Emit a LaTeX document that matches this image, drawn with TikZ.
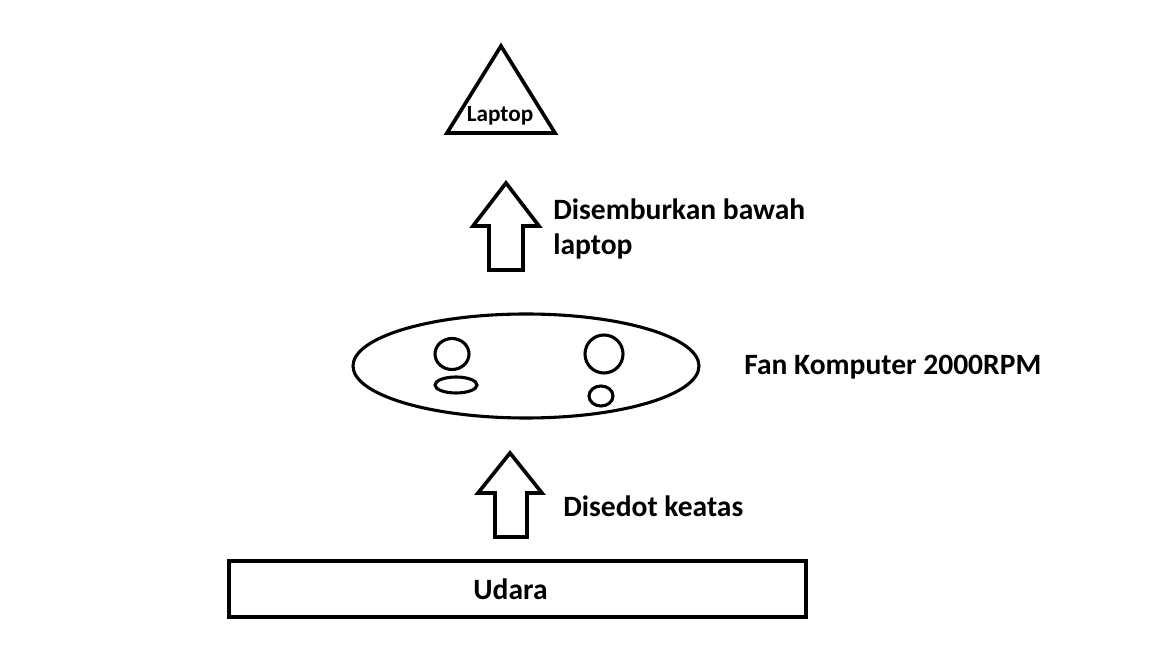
\documentclass[tikz,border=0pt]{standalone}
\usepackage{fontspec}
\setmainfont{Carlito}
\usetikzlibrary{positioning}
\tikzset{
  outline/.style={draw=black, line width=2.6pt, line join=miter},
  blockarr/.style={outline, fill=white},
  lbl/.style={font=\fontsize{21}{25}\selectfont\bfseries, inner sep=0pt,
              anchor=base west, align=left},
  hole/.style={draw=black, line width=2.2pt},
}

\begin{document}
\begin{tikzpicture}[x=0.025cm, y=-0.025cm]
  \useasboundingbox (0,0) rectangle (1152,648);

  % Laptop on top
  \draw[outline] (501,46) -- (555,133) -- (447,133) -- cycle;
  \node[font=\fontsize{16.5}{19}\selectfont\bfseries, inner sep=0pt, anchor=base]
    (laptop) at (500,122) {Laptop};

  % Arrow up into the laptop
  \draw[blockarr] (506,183) -- (539,226) -- (523,226) -- (523,270)
    -- (489,270) -- (489,226) -- (473,226) -- cycle;
  \node[lbl] (sembur) at (553,255) {Disemburkan bawah\\laptop};

  % Fan
  \draw[outline, line width=2.2pt] (526,366) ellipse [x radius=173, y radius=52];
  \draw[hole] (452,354) ellipse [x radius=17, y radius=15.5];
  \draw[hole] (456,385) ellipse [x radius=21, y radius=8];
  \draw[hole] (604,354) ellipse [x radius=19, y radius=19];
  \draw[hole] (601,396) ellipse [x radius=12, y radius=10];
  \node[lbl] (fanlbl) at (744,375) {Fan Komputer 2000RPM};

  % Arrow up from the air
  \draw[blockarr] (510,453) -- (542,493) -- (527,493) -- (527,537)
    -- (495,537) -- (495,493) -- (478,493) -- cycle;
  \node[lbl] (sedot) at (563,517) {Disedot keatas};

  % Air
  \node[draw=black, line width=3pt, minimum width=14.425cm, minimum height=1.4cm,
        inner sep=0pt, font=\fontsize{21}{25}\selectfont\bfseries, text depth=0pt]
    (udara) at (517.5,589) {\hspace*{-0.35cm}Udara};

\end{tikzpicture}
\end{document}
